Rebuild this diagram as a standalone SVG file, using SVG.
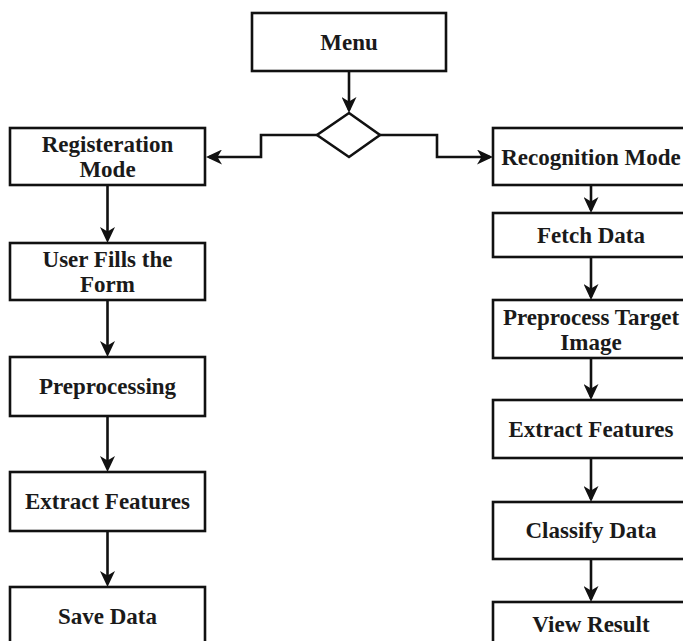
<svg xmlns="http://www.w3.org/2000/svg" width="683" height="641" viewBox="0 0 683 641">
<style>
.box{fill:#fff;stroke:#111;stroke-width:2.6}
.lbl{font-family:"Liberation Serif","Times New Roman",serif;font-weight:bold;font-size:23px;fill:#1a1a1a;text-anchor:middle}
.con{fill:none;stroke:#111;stroke-width:2.6;marker-end:url(#ah)}
</style>
<defs>
<marker id="ah" viewBox="0 0 16 15" refX="13" refY="7.5" markerWidth="16" markerHeight="15" markerUnits="userSpaceOnUse" orient="auto">
<path d="M0,0 L16,7.5 L0,15 L4.5,7.5 Z" fill="#111"/>
</marker>
</defs>
<rect width="683" height="641" fill="#fff"/>
<g id="connectors">
<path class="con" d="M349,71 V110"/>
<path class="con" d="M317,135 H261 V157 H209"/>
<path class="con" d="M380,135 H437 V157 H490"/>
<path class="con" d="M107.5,185 V240"/>
<path class="con" d="M107.5,300 V354"/>
<path class="con" d="M107.5,416 V469"/>
<path class="con" d="M107.5,531 V584"/>
<path class="con" d="M591,185 V210"/>
<path class="con" d="M591,257 V297"/>
<path class="con" d="M591,358 V397"/>
<path class="con" d="M591,458 V499"/>
<path class="con" d="M591,559 V599"/>
</g>
<g id="menu"><rect class="box" x="252" y="13" width="194" height="58"/><text class="lbl" x="349" y="50">Menu</text></g>
<g id="decision"><polygon class="box" points="349,113 380,135 349,157 317,135"/></g>
<g id="registration"><rect class="box" x="10" y="128" width="195" height="57"/><text class="lbl" x="107.5" y="152">Registeration</text><text class="lbl" x="107.5" y="177">Mode</text></g>
<g id="userfills"><rect class="box" x="10" y="243" width="195" height="57"/><text class="lbl" x="107.5" y="267">User Fills the</text><text class="lbl" x="107.5" y="292">Form</text></g>
<g id="preprocessing"><rect class="box" x="10" y="357" width="195" height="59"/><text class="lbl" x="107.5" y="394">Preprocessing</text></g>
<g id="extractL"><rect class="box" x="10" y="472" width="195" height="59"/><text class="lbl" x="107.5" y="509">Extract Features</text></g>
<g id="save"><rect class="box" x="10" y="587" width="195" height="70"/><text class="lbl" x="107.5" y="624">Save Data</text></g>
<g id="recognition"><rect class="box" x="493" y="128" width="196" height="57"/><text class="lbl" x="591" y="165">Recognition Mode</text></g>
<g id="fetch"><rect class="box" x="493" y="213" width="196" height="44"/><text class="lbl" x="591" y="243">Fetch Data</text></g>
<g id="preprocessT"><rect class="box" x="493" y="300" width="196" height="58"/><text class="lbl" x="591" y="325">Preprocess Target</text><text class="lbl" x="591" y="350">Image</text></g>
<g id="extractR"><rect class="box" x="493" y="400" width="196" height="58"/><text class="lbl" x="591" y="437">Extract Features</text></g>
<g id="classify"><rect class="box" x="493" y="502" width="196" height="57"/><text class="lbl" x="591" y="538">Classify Data</text></g>
<g id="view"><rect class="box" x="493" y="602" width="196" height="60"/><text class="lbl" x="591" y="632">View Result</text></g>
</svg>
